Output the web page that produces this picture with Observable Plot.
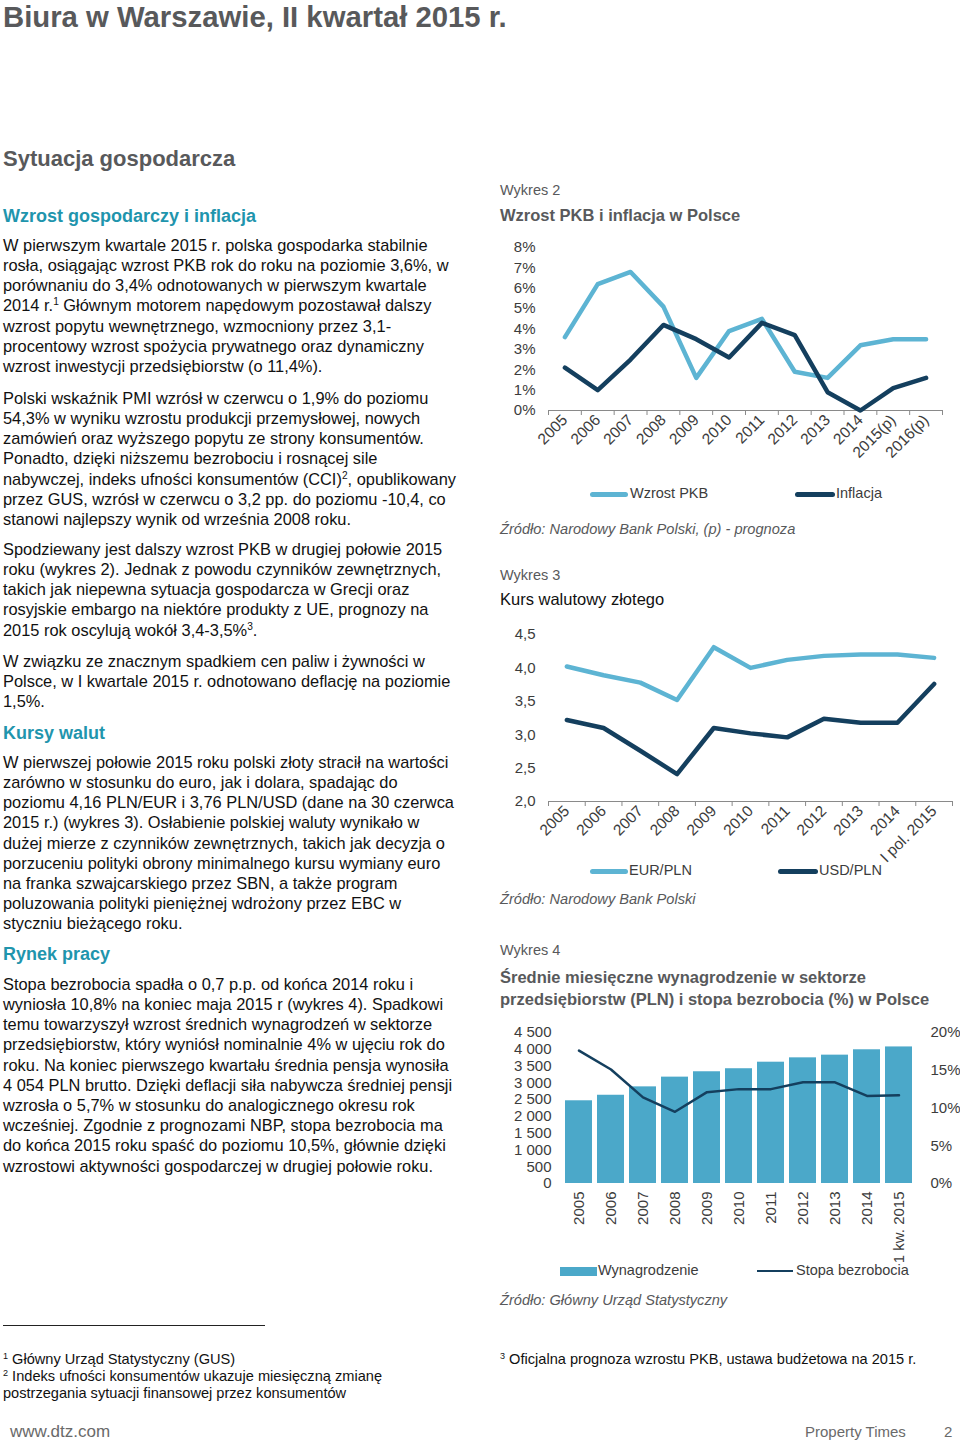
<!DOCTYPE html>
<html lang="pl">
<head>
<meta charset="utf-8">
<script src="https://cdn.jsdelivr.net/npm/d3@7"></script>
<script src="https://cdn.jsdelivr.net/npm/@observablehq/plot@0.6"></script>
<style>
  html, body { margin: 0; padding: 0; background: #fff; }
  body { width: 960px; height: 1442px; position: relative; overflow: hidden;
         font-family: "Liberation Sans", Arial, Helvetica, sans-serif; color: #111; }
  .t { position: absolute; white-space: nowrap; }
  .t sup { font-size: 0.62em; vertical-align: 0.55em; line-height: 0; }
  .chart { position: absolute; }
  .sw { position: absolute; }
</style>
</head>
<body>
<script>
// ---------- DATA ----------
// Wykres 2: Wzrost PKB i inflacja w Polsce (%)
const years1 = ["2005","2006","2007","2008","2009","2010","2011","2012","2013","2014","2015(p)","2016(p)"];
const gdpGrowth = [3.6, 6.2, 6.8, 5.1, 1.6, 3.9, 4.5, 1.9, 1.6, 3.2, 3.5, 3.5];
const inflation = [2.1, 1.0, 2.5, 4.2, 3.5, 2.6, 4.3, 3.7, 0.9, 0.0, 1.1, 1.6];
const yTicks1 = [0, 1, 2, 3, 4, 5, 6, 7, 8];

// Wykres 3: Kurs walutowy złotego
const years2 = ["2005","2006","2007","2008","2009","2010","2011","2012","2013","2014","I pol. 2015"];
const eurPln = [4.02, 3.89, 3.78, 3.52, 4.31, 4.00, 4.12, 4.18, 4.20, 4.20, 4.15];
const usdPln = [3.22, 3.10, 2.76, 2.41, 3.10, 3.02, 2.96, 3.24, 3.18, 3.18, 3.76];
const yTicks2 = [2.0, 2.5, 3.0, 3.5, 4.0, 4.5];

// Wykres 4: Wynagrodzenie (PLN) i stopa bezrobocia (%)
const years3 = ["2005","2006","2007","2008","2009","2010","2011","2012","2013","2014","1 kw. 2015"];
const wages = [2465, 2630, 2880, 3170, 3330, 3420, 3615, 3745, 3825, 3985, 4070];
const unemployment = [17.6, 15.1, 11.4, 9.5, 12.1, 12.5, 12.5, 13.4, 13.4, 11.6, 11.7];
const wageTicks = [0, 500, 1000, 1500, 2000, 2500, 3000, 3500, 4000, 4500];
const rateTicks = [0, 5, 10, 15, 20];

// ---------- STYLE ----------
const LIGHT = "#5db4d3";
const NAVY = "#143f5e";
const BAR = "#4ba8c9";
const GREY = "#58595b";
const TEAL = "#1f95ad";
const AXIS = "#8a8a8a";
const FONT = '"Liberation Sans", Arial, Helvetica, sans-serif';
const BODY = 16.4;

// ---------- TEXT HELPERS ----------
function T(x, baseline, size, html, css = "", lh = size * 1.2) {
  const el = document.createElement("div");
  el.className = "t";
  el.style.cssText = `left:${x}px;top:${baseline - lh / 2 - 0.3465 * size}px;font-size:${size}px;line-height:${lh}px;${css}`;
  el.innerHTML = html;
  document.body.appendChild(el);
  return el;
}
function P(x, baseline, lines, size = BODY, lh = 20.2, css = "") {
  const el = document.createElement("div");
  el.className = "t";
  el.style.cssText = `left:${x}px;top:${baseline - lh / 2 - 0.3465 * size}px;font-size:${size}px;line-height:${lh}px;${css}`;
  el.innerHTML = lines.join("<br>");
  document.body.appendChild(el);
  return el;
}
function swatch(x1, x2, yc, h, color, radius = 0) {
  const el = document.createElement("div");
  el.className = "sw";
  el.style.cssText = `left:${x1}px;top:${yc - h / 2}px;width:${x2 - x1}px;height:${h}px;background:${color};border-radius:${radius}px;`;
  document.body.appendChild(el);
}
function place(fig, left, top) {
  const wrap = document.createElement("div");
  wrap.className = "chart";
  wrap.style.left = left + "px";
  wrap.style.top = top + "px";
  wrap.appendChild(fig);
  document.body.appendChild(wrap);
}
const plotStyle = {background: "transparent", fontFamily: FONT, fontSize: "15px", color: "#3c3c3c", overflow: "visible"};

// ---------- LEFT COLUMN ----------
T(3, 26.8, 29.3, "Biura w Warszawie, II kwartał 2015 r.", `font-weight:bold;color:${GREY};`, 24);
T(3, 167, 22, "Sytuacja gospodarcza", `font-weight:bold;color:${GREY};`);
T(3, 223, 18, "Wzrost gospodarczy i inflacja", `font-weight:bold;color:${TEAL};`);

P(3, 250.5, [
  "W pierwszym kwartale 2015 r. polska gospodarka stabilnie",
  "rosła, osiągając wzrost PKB rok do roku na poziomie 3,6%, w",
  "porównaniu do 3,4% odnotowanych w pierwszym kwartale",
  "2014 r.<sup>1</sup> Głównym motorem napędowym pozostawał dalszy",
  "wzrost popytu wewnętrznego, wzmocniony przez 3,1-",
  "procentowy wzrost spożycia prywatnego oraz dynamiczny",
  "wzrost inwestycji przedsiębiorstw (o 11,4%)."
]);
P(3, 403.5, [
  "Polski wskaźnik PMI wzrósł w czerwcu o 1,9% do poziomu",
  "54,3% w wyniku wzrostu produkcji przemysłowej, nowych",
  "zamówień oraz wyższego popytu ze strony konsumentów.",
  "Ponadto, dzięki niższemu bezrobociu i rosnącej sile",
  "nabywczej, indeks ufności konsumentów (CCI)<sup>2</sup>, opublikowany",
  "przez GUS, wzrósł w czerwcu o 3,2 pp. do poziomu -10,4, co",
  "stanowi najlepszy wynik od września 2008 roku."
]);
P(3, 554.5, [
  "Spodziewany jest dalszy wzrost PKB w drugiej połowie 2015",
  "roku (wykres 2). Jednak z powodu czynników zewnętrznych,",
  "takich jak niepewna sytuacja gospodarcza w Grecji oraz",
  "rosyjskie embargo na niektóre produkty z UE, prognozy na",
  "2015 rok oscylują wokół 3,4-3,5%<sup>3</sup>."
]);
P(3, 666.5, [
  "W związku ze znacznym spadkiem cen paliw i żywności w",
  "Polsce, w I kwartale 2015 r. odnotowano deflację na poziomie",
  "1,5%."
]);
T(3, 740, 18, "Kursy walut", `font-weight:bold;color:${TEAL};`);
P(3, 767.5, [
  "W pierwszej połowie 2015 roku polski złoty stracił na wartości",
  "zarówno w stosunku do euro, jak i dolara, spadając do",
  "poziomu 4,16 PLN/EUR i 3,76 PLN/USD (dane na 30 czerwca",
  "2015 r.) (wykres 3). Osłabienie polskiej waluty wynikało w",
  "dużej mierze z czynników zewnętrznych, takich jak decyzja o",
  "porzuceniu polityki obrony minimalnego kursu wymiany euro",
  "na franka szwajcarskiego przez SBN, a także program",
  "poluzowania polityki pieniężnej wdrożony przez EBC w",
  "styczniu bieżącego roku."
]);
T(3, 961, 18, "Rynek pracy", `font-weight:bold;color:${TEAL};`);
P(3, 989.5, [
  "Stopa bezrobocia spadła o 0,7 p.p. od końca 2014 roku i",
  "wyniosła 10,8% na koniec maja 2015 r (wykres 4). Spadkowi",
  "temu towarzyszył wzrost średnich wynagrodzeń w sektorze",
  "przedsiębiorstw, który wyniósł nominalnie 4% w ujęciu rok do",
  "roku. Na koniec pierwszego kwartału średnia pensja wynosiła",
  "4 054 PLN brutto. Dzięki deflacji siła nabywcza średniej pensji",
  "wzrosła o 5,7% w stosunku do analogicznego okresu rok",
  "wcześniej. Zgodnie z prognozami NBP, stopa bezrobocia ma",
  "do końca 2015 roku spaść do poziomu 10,5%, głównie dzięki",
  "wzrostowi aktywności gospodarczej w drugiej połowie roku."
]);

// ---------- RIGHT COLUMN TEXTS ----------
T(500, 195.5, 14.5, "Wykres 2", `color:${GREY};`);
T(500, 221.5, 16.5, "Wzrost PKB i inflacja w Polsce", `font-weight:bold;color:${GREY};`);
T(500, 535, 14.6, "Źródło: Narodowy Bank Polski, (p) - prognoza", `font-style:italic;color:${GREY};`);
T(500, 581, 14.5, "Wykres 3", `color:${GREY};`);
T(500, 605.5, 16.5, "Kurs walutowy złotego", `color:#111;`);
T(500, 905, 14.6, "Źródło: Narodowy Bank Polski", `font-style:italic;color:${GREY};`);
T(500, 956, 14.5, "Wykres 4", `color:${GREY};`);
T(500, 983.5, 16.5, "Średnie miesięczne wynagrodzenie w sektorze", `font-weight:bold;color:${GREY};`);
T(500, 1005.5, 16.5, "przedsiębiorstw (PLN) i stopa bezrobocia (%) w Polsce", `font-weight:bold;color:${GREY};`);
T(500, 1306, 14.6, "Źródło: Główny Urząd Statystyczny", `font-style:italic;color:${GREY};`);

// ---------- CHART 1 ----------
const idx1 = years1.map((_, i) => i);
place(Plot.plot({
  width: 460, height: 240,
  marginTop: 12, marginBottom: 65, marginLeft: 48, marginRight: 18,
  style: plotStyle,
  x: {type: "linear", domain: [-0.5, years1.length - 0.5]},
  y: {domain: [0, 8]},
  marks: [
    Plot.axisY(yTicks1, {tickSize: 0, tickPadding: 13, tickFormat: d => d + "%", label: null, fontSize: 15}),
    Plot.axisX(idx1, {tickSize: 0, tickPadding: 7, tickRotate: -45, tickFormat: i => years1[i], label: null, fontSize: 15.5}),
    Plot.axisX(d3.range(years1.length + 1).map(i => i - 0.5), {tickSize: 5, tickFormat: () => "", label: null, stroke: AXIS}),
    Plot.ruleY([0], {stroke: AXIS, strokeWidth: 1}),
    Plot.lineY(gdpGrowth, {x: (d, i) => i, y: d => d, stroke: LIGHT, strokeWidth: 4.5}),
    Plot.lineY(inflation, {x: (d, i) => i, y: d => d, stroke: NAVY, strokeWidth: 4.5})
  ]
}), 500, 235);
swatch(590, 628, 494, 5, LIGHT, 3);
T(630, 499, 14.5, "Wzrost PKB", "color:#3c3c3c;");
swatch(795, 835, 494, 5, NAVY, 3);
T(836, 499, 14.5, "Inflacja", "color:#3c3c3c;");

// ---------- CHART 2 ----------
const idx2 = years2.map((_, i) => i);
const comma = d => d3.format(".1f")(d).replace(".", ",");
place(Plot.plot({
  width: 460, height: 240,
  marginTop: 14, marginBottom: 59, marginLeft: 48, marginRight: 8,
  style: plotStyle,
  x: {type: "linear", domain: [-0.5, years2.length - 0.5]},
  y: {domain: [2, 4.5]},
  marks: [
    Plot.axisY(yTicks2, {tickSize: 0, tickPadding: 13, tickFormat: comma, label: null, fontSize: 15}),
    Plot.axisX(idx2, {tickSize: 0, tickPadding: 7, tickRotate: -45, tickFormat: i => years2[i], label: null, fontSize: 15.5}),
    Plot.axisX(d3.range(years2.length + 1).map(i => i - 0.5), {tickSize: 5, tickFormat: () => "", label: null, stroke: AXIS}),
    Plot.ruleY([2], {stroke: AXIS, strokeWidth: 1}),
    Plot.lineY(eurPln, {x: (d, i) => i, y: d => d, stroke: LIGHT, strokeWidth: 4.5}),
    Plot.lineY(usdPln, {x: (d, i) => i, y: d => d, stroke: NAVY, strokeWidth: 4.5})
  ]
}), 500, 620);
swatch(590, 628, 871, 5, LIGHT, 3);
T(629, 876, 14.5, "EUR/PLN", "color:#3c3c3c;");
swatch(778, 818, 871, 5, NAVY, 3);
T(819, 876, 14.5, "USD/PLN", "color:#3c3c3c;");

// ---------- CHART 3 ----------
const k = wageTicks[wageTicks.length - 1] / rateTicks[rateTicks.length - 1]; // 4500 PLN <-> 20 %
const spaceFmt = d => d >= 1000 ? `${Math.floor(d / 1000)} ${String(d % 1000).padStart(3, "0")}` : String(d);
place(Plot.plot({
  width: 460, height: 250,
  marginTop: 12, marginBottom: 87, marginLeft: 62, marginRight: 44,
  style: plotStyle,
  x: {type: "band", domain: years3, paddingInner: 0.145, paddingOuter: 0.07},
  y: {domain: [0, 4500]},
  marks: [
    Plot.barY(wages, {x: (d, i) => years3[i], y: d => d, fill: BAR}),
    Plot.lineY(unemployment, {x: (d, i) => years3[i], y: d => d * k, stroke: NAVY, strokeWidth: 2.5}),
    Plot.axisY(wageTicks, {tickSize: 0, tickPadding: 11, tickFormat: spaceFmt, label: null, fontSize: 15}),
    Plot.axisY(rateTicks.map(d => d * k), {anchor: "right", tickSize: 0, tickPadding: 14, tickFormat: d => Math.round(d / k) + "%", label: null, fontSize: 15}),
    Plot.axisX({tickSize: 0, tickPadding: 8, tickRotate: -90, label: null, fontSize: 15})
  ]
}), 500, 1020);
swatch(560, 597, 1271, 9, BAR, 0);
T(598, 1276, 14.5, "Wynagrodzenie", "color:#3c3c3c;");
swatch(757, 793, 1271, 2.5, NAVY, 0);
T(796, 1276, 14.5, "Stopa bezrobocia", "color:#3c3c3c;");

// ---------- FOOTNOTES & FOOTER ----------
swatch(3, 265, 1325, 1, "#222", 0);
P(3, 1365, [
  "<sup>1</sup> Główny Urząd Statystyczny (GUS)",
  "<sup>2</sup> Indeks ufności konsumentów ukazuje miesięczną zmianę",
  "postrzegania sytuacji finansowej przez konsumentów"
], 14.6, 17, "color:#111;");
T(500, 1365, 14.6, "<sup>3</sup> Oficjalna prognoza wzrostu PKB, ustawa budżetowa na 2015 r.", "color:#111;");
T(10, 1438.5, 17, "www.dtz.com", "color:#6a6a6a;");
T(805, 1437.5, 15, "Property Times", "color:#6a6a6a;");
T(944, 1437.5, 15, "2", "color:#6a6a6a;");
</script>
</body>
</html>
